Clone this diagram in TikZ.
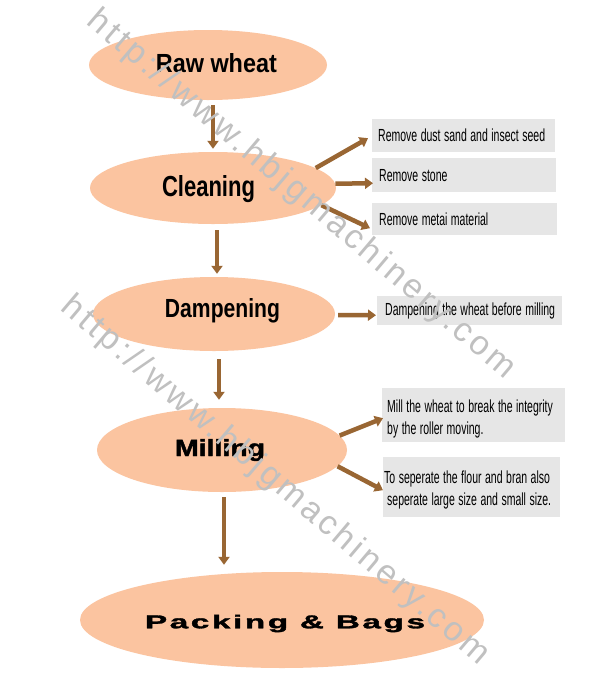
\documentclass[tikz,border=0pt]{standalone}
\usepackage{fontspec}
\setmainfont{Liberation Sans}
\newfontfamily\wmfont[LetterSpace=10]{Liberation Sans}
\newfontfamily\heavyf[FakeBold=1.6]{Liberation Sans Bold}
\usetikzlibrary{shapes.geometric,arrows.meta,calc}
\definecolor{peach}{RGB}{251,196,160}
\definecolor{brownarr}{RGB}{153,102,51}
\definecolor{boxgray}{RGB}{230,230,230}
\definecolor{wmgray}{RGB}{192,192,192}
\newcommand{\nar}[1]{\scalebox{0.6}[1]{#1}}
\newcommand{\lsp}{\kern0.08em}
\begin{document}
\begin{tikzpicture}[x=1pt,y=-1pt,
  proc/.style={ellipse, fill=peach, draw=none, inner sep=0pt},
  arr/.style={draw=brownarr, line width=4.5pt, -{Triangle[length=8pt,width=11pt]}},
  note/.style={fill=boxgray, anchor=north west, inner xsep=6pt, inner ysep=0pt,
    font=\fontsize{17.5}{22}\selectfont, align=left},
  lbl/.style={inner sep=0pt, font=\bfseries},
  hlbl/.style={inner sep=0pt, font=\heavyf},
  wm/.style={text=wmgray, font=\wmfont\fontsize{34}{34}\selectfont, rotate=-40.3, inner sep=0pt}
]
\fill[white] (0,0) rectangle (597,689);
\useasboundingbox (0,0) rectangle (597,689);

% process ellipses
\node[proc, minimum width=238pt, minimum height=70pt,
  label={[lbl, xshift=8.4pt, yshift=2pt]center:\resizebox{121pt}{19pt}{Raw wheat}}] (raw) at (208,65) {};
\node[proc, minimum width=246pt, minimum height=72pt,
  label={[lbl, xshift=-4.5pt, yshift=-1.5pt]center:\resizebox{93pt}{21pt}{Cleaning}}] (clean) at (213,188) {};
\node[proc, minimum width=242pt, minimum height=74pt,
  label={[lbl, xshift=8.5pt, yshift=3.7pt]center:\resizebox{115pt}{19pt}{Dampening}}] (damp) at (214,314) {};
\node[proc, minimum width=250pt, minimum height=84pt,
  label={[hlbl, xshift=-2pt, yshift=0pt]center:\resizebox{90pt}{17pt}{Milling}}] (mill) at (222,450) {};
\node[proc, minimum width=404pt, minimum height=96pt,
  label={[hlbl, xshift=3pt, yshift=-3.5pt]center:\resizebox{280pt}{13.5pt}{P\lsp a\lsp c\lsp k\lsp i\lsp n\lsp g\ \lsp\&\lsp\ B\lsp a\lsp g\lsp s}}] (pack) at (282,620) {};

% note boxes
\node[note, minimum width=183pt, minimum height=33pt, text width=171pt] (b1) at (372,119) {\nar{Remove dust sand and insect seed}};
\node[note, minimum width=183pt, minimum height=34pt, text width=170pt, inner xsep=7pt] (b2) at (372,158) {\nar{Remove stone}};
\node[note, minimum width=184pt, minimum height=32pt, text width=171pt, inner xsep=7pt] (b3) at (372,203) {\nar{Remove metai material}};
\node[note, minimum width=185pt, minimum height=29pt, text width=169pt, inner xsep=8pt] (d1) at (377,296) {\nar{Dampening the wheat before milling}};
\node[note, minimum width=183pt, minimum height=54pt, text width=173pt, inner xsep=5pt] (m1) at (382,388) {\rule{0pt}{20pt}\nar{Mill the wheat to break the integrity}\\\nar{by the roller moving.}};
\node[note, minimum width=177pt, minimum height=60pt, text width=175pt, inner xsep=1pt] (m2) at (383,457) {\rule{0pt}{18pt}\nar{To seperate the flour and bran also}\\\hspace*{3pt}\nar{seperate large size and small size.}};

% vertical arrows
\draw[arr] ([xshift=5pt,yshift=-5pt]raw.south) coordinate (s1) -- ($(s1 |- clean.north)+(0pt,3pt)$) coordinate (e1);
\draw[arr] ([xshift=4pt,yshift=-6pt]clean.south) coordinate (s2) -- ($(s2 |- damp.north)+(0pt,3pt)$) coordinate (e2);
\draw[arr] ([xshift=5pt,yshift=-8pt]damp.south) coordinate (s3) -- ($(s3 |- mill.north)+(0pt,8pt)$) coordinate (e3);
\draw[arr] ([xshift=2pt,yshift=-5pt]mill.south) coordinate (s4) -- ($(s4 |- pack.north)+(0pt,7pt)$) coordinate (e4);

% side arrows
\draw[arr] (clean.11) -- ([xshift=-4pt,yshift=-2.5pt]b1.west);
\draw[arr] (clean.2) -- ([xshift=1pt,yshift=-8pt]b2.west);
\draw[arr] (clean.-9) -- ([xshift=-2pt,yshift=-9pt]b3.west);
\draw[arr] ([xshift=3pt,yshift=-1pt]damp.east) -- ([xshift=-1pt,yshift=-4.5pt]d1.west);
\draw[arr] (mill.7) -- ([xshift=1pt,yshift=-3pt]m1.west);
\draw[arr] (mill.-8) -- ([xshift=0pt,yshift=-3pt]m2.west);

% watermark
\node[wm] (wm1) at (301,195) {http://www.hbjgmachinery.com};
\node[wm] (wm2) at (275,481) {http://www.hbjgmachinery.com};
\end{tikzpicture}
\end{document}
